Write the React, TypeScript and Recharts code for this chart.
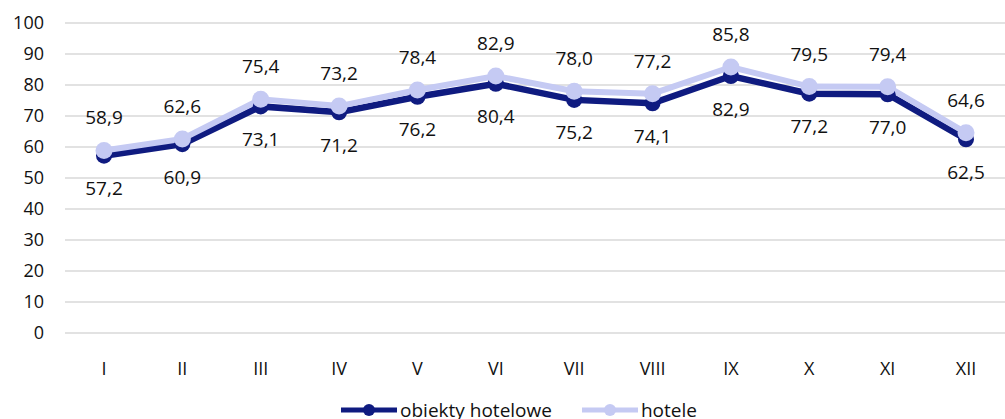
import React from "react";
import {
  LineChart,
  Line,
  XAxis,
  YAxis,
  CartesianGrid,
  Legend,
  LabelList,
} from "recharts";

const months = ["I", "II", "III", "IV", "V", "VI", "VII", "VIII", "IX", "X", "XI", "XII"];
const obiektyHotelowe = [57.2, 60.9, 73.1, 71.2, 76.2, 80.4, 75.2, 74.1, 82.9, 77.2, 77.0, 62.5];
const hotele = [58.9, 62.6, 75.4, 73.2, 78.4, 82.9, 78.0, 77.2, 85.8, 79.5, 79.4, 64.6];
const yTicks = [0, 10, 20, 30, 40, 50, 60, 70, 80, 90, 100];

const data = months.map((m, i) => ({
  month: m,
  obiekty: obiektyHotelowe[i],
  hotele: hotele[i],
}));

const DARK = "#0f1b80";
const LIGHT = "#c5caf3";
const FONT = "'Open Sans', 'Noto Sans', sans-serif";
const TEXT = { fill: "#111", fontSize: 18, fontFamily: FONT };
const LABEL = { fill: "#111", fontSize: 19, fontFamily: FONT };

const fmt = (v: any) => Number(v).toFixed(1).replace(".", ",");

function MonthTick(props: any) {
  const { x, y, payload } = props;
  return (
    <text x={x} y={y + 40} textAnchor="middle" fill="#111" fontSize={18} style={{ fontFamily: FONT }}>
      {payload.value}
    </text>
  );
}

function LegendContent() {
  const item = (color: string, label: string) => (
    <div style={{ display: "flex", alignItems: "center" }}>
      <svg width={56} height={14}>
        <line x1={0} y1={7} x2={56} y2={7} stroke={color} strokeWidth={5} strokeLinecap="round" />
        <circle cx={28} cy={7} r={6} fill={color} />
      </svg>
      <span style={{ fontSize: 19, color: "#111", fontFamily: FONT, marginLeft: 3 }}>{label}</span>
    </div>
  );
  return (
    <div style={{ display: "flex", justifyContent: "center", gap: 30, paddingLeft: 33, paddingTop: 8 }}>
      {item(DARK, "obiekty hotelowe")}
      {item(LIGHT, "hotele")}
    </div>
  );
}

export default function App() {
  return (
    <div style={{ position: "absolute", left: 0, top: 0, background: "#fff" }}>
      <LineChart
        width={1005}
        height={419}
        data={data}
        margin={{ top: 23, right: 0, bottom: 0, left: 0 }}
        style={{ fontFamily: FONT }}
      >
        <CartesianGrid vertical={false} stroke="#d9d9d9" strokeWidth={1.5} />
        <XAxis
          dataKey="month"
          axisLine={false}
          tickLine={false}
          tickSize={0}
          height={56}
          interval={0}
          padding={{ left: 39, right: 39 }}
          tick={<MonthTick />}
        />
        <YAxis
          domain={[0, 100]}
          ticks={yTicks}
          axisLine={false}
          tickLine={false}
          tickSize={0}
          tickMargin={21}
          width={65}
          tick={TEXT}
        />
        <Legend verticalAlign="bottom" height={30} content={<LegendContent />} />
        <Line
          dataKey="obiekty"
          name="obiekty hotelowe"
          stroke={DARK}
          strokeWidth={6.5}
          dot={{ r: 8, fill: DARK, stroke: DARK, strokeWidth: 0 }}
          isAnimationActive={false}
        >
          <LabelList dataKey="obiekty" position="bottom" offset={26} formatter={fmt} style={LABEL} />
        </Line>
        <Line
          dataKey="hotele"
          name="hotele"
          stroke={LIGHT}
          strokeWidth={6}
          dot={{ r: 8.5, fill: LIGHT, stroke: LIGHT, strokeWidth: 0 }}
          isAnimationActive={false}
        >
          <LabelList dataKey="hotele" position="top" offset={26} formatter={fmt} style={LABEL} />
        </Line>
      </LineChart>
    </div>
  );
}
